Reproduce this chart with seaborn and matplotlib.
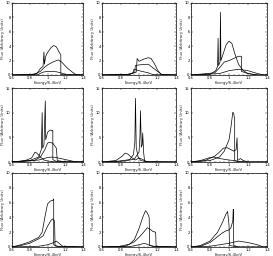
import matplotlib
matplotlib.use("Agg")
import matplotlib.pyplot as plt
import seaborn as sns
from matplotlib.ticker import MultipleLocator

# line profiles, each curve is a list of (energy, flux) points
p1_a = [(0.6,0),(0.8,0.05),(0.88,0.2),(0.92,0.9),(0.95,1.2),(0.96,3.2),(0.965,1.5),(0.98,2.6),(1.0,3.1),(1.04,3.8),(1.07,4.1),(1.1,3.9),(1.13,3.2),(1.15,2.8),(1.15,0.05),(1.4,0)]
p1_b = [(0.6,0),(0.85,0.1),(0.92,0.5),(0.96,1.0),(1.0,1.4),(1.06,1.8),(1.12,2.1),(1.16,1.8),(1.22,1.0),(1.28,0.4),(1.32,0.05),(1.4,0)]
p1_c = [(0.6,0),(0.9,0.1),(0.95,0.4),(1.0,0.5),(1.1,0.45),(1.15,0.3),(1.2,0.1),(1.4,0)]

p2_a = [(0.6,0),(0.9,0.1),(0.97,0.4),(0.98,2.3),(1.0,1.9),(1.05,2.2),(1.1,2.4),(1.13,2.3),(1.17,1.5),(1.2,0.7),(1.24,0.05),(1.4,0)]
p2_b = [(0.6,0),(0.9,0.1),(0.955,0.4),(0.96,1.3),(1.0,1.4),(1.1,1.5),(1.15,1.0),(1.2,0.5),(1.25,0.05),(1.4,0)]
p2_c = [(0.6,0),(0.88,0.1),(0.935,0.3),(0.945,0.8),(1.0,0.6),(1.1,0.3),(1.15,0.05),(1.4,0)]

p3_a = [(0.6,0),(0.8,0.1),(0.86,0.6),(0.88,1.2),(0.885,5.1),(0.89,1.3),(0.905,1.8),(0.91,8.7),(0.915,2.0),(0.94,3.0),(0.97,4.2),(1.0,4.7),(1.03,4.4),(1.06,3.0),(1.1,1.5),(1.15,0.6),(1.2,0.2),(1.3,0),(1.4,0)]
p3_b = [(0.6,0),(0.85,0.3),(0.9,1.0),(0.95,1.8),(1.0,2.0),(1.05,2.3),(1.1,2.6),(1.13,2.6),(1.13,0.5),(1.2,0.2),(1.3,0),(1.4,0)]
p3_c = [(0.6,0),(0.9,0.2),(1.0,0.6),(1.1,0.8),(1.2,0.6),(1.3,0.2),(1.37,0),(1.4,0)]

p4_a = [(0.6,0),(0.8,0.3),(0.9,1.0),(0.93,2.5),(0.94,10.0),(0.945,2.8),(0.96,3.5),(0.975,12.4),(0.98,4.5),(1.0,6.0),(1.03,6.5),(1.05,6.3),(1.06,6.4),(1.06,0.5),(1.1,0.1),(1.4,0)]
p4_b = [(0.6,0),(0.85,0.3),(0.92,1.0),(0.97,2.5),(1.0,3.8),(1.02,4.0),(1.06,3.8),(1.1,2.8),(1.11,0.3),(1.2,0),(1.4,0)]
p4_c = [(0.6,0),(0.75,0.3),(0.82,0.8),(0.86,2.0),(0.88,1.8),(0.92,1.0),(0.96,0.4),(1.0,0.2),(1.1,0),(1.4,0)]
p4_d = [(0.6,0),(0.9,0.4),(1.0,0.9),(1.05,1.0),(1.1,0.9),(1.2,0.5),(1.3,0.1),(1.35,0),(1.4,0)]

p5_a = [(0.6,0),(0.8,0.2),(0.9,0.5),(0.94,1.5),(0.955,4.0),(0.962,12.9),(0.97,3.0),(0.99,1.0),(1.02,0.3),(1.1,0),(1.4,0)]
p5_b = [(0.6,0),(0.85,0.2),(0.95,0.6),(1.0,2.0),(1.01,5.0),(1.016,10.4),(1.025,3.0),(1.035,3.5),(1.04,5.9),(1.05,2.0),(1.06,0.2),(1.1,0),(1.4,0)]
p5_c = [(0.6,0),(0.75,0.3),(0.82,1.2),(0.85,1.8),(0.88,1.6),(0.92,0.9),(0.96,0.4),(1.0,0.8),(1.03,0.6),(1.08,0.1),(1.4,0)]

p6_a = [(0.6,0),(0.8,0.3),(0.9,1.0),(0.95,2.2),(1.0,4.5),(1.02,7.0),(1.04,10.1),(1.05,9.8),(1.06,8.5),(1.06,0.3),(1.1,0),(1.4,0)]
p6_b = [(0.6,0),(0.75,0.3),(0.85,1.2),(0.9,2.0),(0.94,2.8),(0.98,2.9),(1.01,2.6),(1.05,2.2),(1.075,2.5),(1.085,4.9),(1.09,0.3),(1.12,0.7),(1.15,0.3),(1.2,0),(1.4,0)]
p6_c = [(0.6,0),(0.7,0.3),(0.8,0.9),(0.84,1.0),(0.9,0.7),(1.0,0.4),(1.05,0.3),(1.1,0.1),(1.2,0),(1.4,0)]

p7_a = [(0.6,0),(0.7,0.3),(0.8,0.7),(0.9,1.3),(0.94,2.0),(0.97,4.0),(1.0,5.8),(1.03,6.2),(1.06,6.3),(1.07,6.5),(1.07,0.3),(1.1,0.1),(1.4,0)]
p7_b = [(0.6,0),(0.7,0.2),(0.8,0.5),(0.9,1.1),(0.95,1.5),(1.0,2.8),(1.04,3.6),(1.06,3.8),(1.08,3.5),(1.085,0.2),(1.15,0),(1.4,0)]
p7_c = [(0.6,0),(0.9,0.1),(1.0,0.3),(1.05,0.5),(1.1,0.8),(1.13,0.5),(1.17,0.1),(1.4,0)]

p8_a = [(0.6,0),(0.8,0.1),(0.9,0.4),(0.95,1.0),(1.0,2.5),(1.04,4.0),(1.07,4.9),(1.09,4.6),(1.11,4.0),(1.115,0.2),(1.2,0),(1.4,0)]
p8_b = [(0.6,0),(0.85,0.1),(0.95,0.7),(1.0,1.3),(1.05,2.0),(1.09,2.6),(1.12,2.4),(1.15,2.1),(1.18,2.0),(1.185,0.1),(1.4,0)]
p8_c = [(0.6,0),(0.9,0.05),(1.0,0.3),(1.06,0.5),(1.1,0.3),(1.15,0.1),(1.4,0)]

p9_a = [(0.6,0),(0.7,0.2),(0.8,0.8),(0.88,2.0),(0.93,3.3),(0.97,4.5),(0.985,4.8),(1.0,3.0),(1.005,0.2),(1.1,0),(1.4,0)]
p9_b = [(0.6,0),(0.7,0.1),(0.8,0.6),(0.88,1.4),(0.93,1.9),(0.97,2.2),(1.0,2.3),(1.02,2.6),(1.04,3.5),(1.045,5.1),(1.05,0.2),(1.1,0),(1.4,0)]
p9_c = [(0.6,0),(0.8,0.1),(0.9,0.3),(1.0,0.5),(1.1,0.8),(1.2,0.6),(1.3,0.3),(1.36,0),(1.4,0)]

panels = [[p1_a, p1_b, p1_c], [p2_a, p2_b, p2_c], [p3_a, p3_b, p3_c],
          [p4_a, p4_b, p4_c, p4_d], [p5_a, p5_b, p5_c], [p6_a, p6_b, p6_c],
          [p7_a, p7_b, p7_c], [p8_a, p8_b, p8_c], [p9_a, p9_b, p9_c]]
y_max = [10, 10, 10, 15, 15, 15, 10, 10, 10]

x_ticks = [0.6, 0.8, 1.0, 1.2, 1.4]
x_labels = ["0.6", "0.8", "1", "1.2", "1.4"]
x_title = "Energy/6.4keV"
y_title = "Flux (Arbitrary Units)"

sns.set_style("ticks")
plt.rcParams['font.family'] = ['DejaVu Sans']

W, H = 273, 256
fig = plt.figure(figsize=(W / 100, H / 100), dpi=100)
fig.patch.set_facecolor("white")

lefts = [12, 102, 191]
widths = [71, 74, 76]
tops = [3, 88, 173]
heights = [72, 74, 74]

for i, curves in enumerate(panels):
    r, c = divmod(i, 3)
    ax = fig.add_axes([lefts[c] / W, 1 - (tops[r] + heights[r]) / H,
                       widths[c] / W, heights[r] / H])
    for cv in curves:
        xs = [p[0] for p in cv]
        ys = [p[1] for p in cv]
        sns.lineplot(x=xs, y=ys, estimator=None, sort=False,
                     color="black", lw=0.5, ax=ax)
    ax.set_xlim(0.6, 1.4)
    ax.set_ylim(0, y_max[i])
    ax.set_xticks(x_ticks)
    ax.set_xticklabels(x_labels)
    step = 5 if y_max[i] == 15 else 2
    ax.yaxis.set_major_locator(MultipleLocator(step))
    ax.xaxis.set_minor_locator(MultipleLocator(0.05))
    ax.yaxis.set_minor_locator(MultipleLocator(step / 4))
    ax.tick_params(which="both", direction="in", top=True, right=True,
                   labelsize=2.6, pad=1, width=0.3, colors="black")
    ax.tick_params(which="major", length=1.5)
    ax.tick_params(which="minor", length=0.8)
    ax.set_xlabel(x_title, fontsize=2.8, labelpad=0.5)
    ax.set_ylabel(y_title, fontsize=2.8, labelpad=0.5)
    for s in ax.spines.values():
        s.set_linewidth(0.5)
        s.set_color("black")

fig.savefig("out.png", dpi=100, facecolor="white")
